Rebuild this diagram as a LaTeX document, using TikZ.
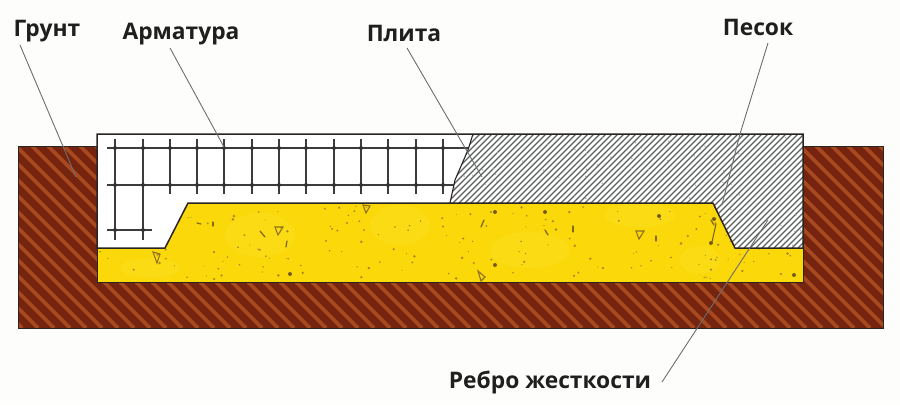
\documentclass[tikz,border=0pt]{standalone}
\usepackage{fontspec}
\setmainfont{Open Sans}
\definecolor{soil}{HTML}{74240F}
\definecolor{soilstripe}{HTML}{A8481F}
\definecolor{sandy}{HTML}{FAD80A}
\definecolor{sandlight}{HTML}{FBDC14}
\definecolor{speck}{HTML}{A98520}
\definecolor{edge}{HTML}{2A2420}
\definecolor{leader}{HTML}{6E6E6E}
\definecolor{bar}{HTML}{3C3C3C}
\definecolor{hatchc}{HTML}{5A5F5F}
\definecolor{paper}{HTML}{FDFDFB}
\tikzset{
  labeltext/.style={font=\bfseries\fontsize{22.8}{25}\selectfont,text=black!88,inner sep=0pt,anchor=base},
  leaderline/.style={draw=leader,line width=0.9pt},
  rebar/.style={draw=bar,line width=1.1pt},
  outline/.style={draw=edge,line width=1.5pt,line join=miter},
  grit/.style={draw=speck!85!black,line width=1.1pt,fill=none}
}
\begin{document}
\begin{tikzpicture}[x=1pt,y=-1pt]
\useasboundingbox (0,0) rectangle (900,405);
\fill[paper] (0,0) rectangle (900,405);
% soil
\fill[soil] (18,146) rectangle (883,328);
\begin{scope}
\clip (18,146) rectangle (883,328);
\foreach \k in {-13,...,56}{
  \draw[soilstripe,line width=3.6pt] ({\k*16},146) -- ({\k*16+182},328);
}
\end{scope}
\draw[edge,line width=1pt] (18,146) rectangle (883,328);
% sand
\fill[sandy] (97,134) rectangle (803,282);
\begin{scope}
\clip (97,203) rectangle (803,282);
\foreach \px/\py/\rx/\ry in {260/235/35/22,400/225/30/20,530/250/40/18,640/215/35/12,150/268/30/10,700/260/20/14}{
  \fill[sandlight] (\px,\py) ellipse ({\rx} and {\ry});
}
\pgfmathsetseed{271}
\foreach \i in {1,...,170}{
  \pgfmathsetmacro{\sx}{100+rnd*700}
  \pgfmathsetmacro{\sy}{206+rnd*74}
  \pgfmathsetmacro{\sr}{0.5+rnd*0.9}
  \fill[speck] (\sx,\sy) circle ({\sr});
}
\foreach \sx/\sy/\dx/\dy in {197/223/4/1,213/222/0/4,260/231/5/6,287/241/-1/6,484/220/-3/7,545/230/3/5,573/226/0/6,656/236/0/5,711/220/3/5}{
  \draw[speck!80!black,line width=1.3pt,line cap=round] (\sx,\sy) -- ++(\dx,\dy);
}
\foreach \sx/\sy in {290/274,495/212,495/265,545/212,659/216,714/219,711/243,794/275}{
  \fill[speck!70!black] (\sx,\sy) circle (2);
}
\end{scope}
\draw[grit] (153,252) -- (160,254) -- (157,263) -- cycle;
\draw[grit] (275,227) -- (283,227) -- (278,235) -- cycle;
\draw[grit] (636,231) -- (644,231) -- (639,239) -- cycle;
\draw[grit] (478,271) -- (485,277) -- (481,281) -- cycle;
\draw[grit] (363,205) -- (370,206) -- (366,213) -- cycle;
\draw[speck!70!black,line width=1pt] (716,224) -- (712,242);
% white part of slab
\fill[white] (97,134) -- (803,134) -- (803,248) -- (735,248) -- (713,203) -- (188,203) -- (165,248) -- (97,248) -- cycle;
% reinforcement
\foreach \x in {115,143}{\draw[rebar] (\x,139) -- (\x,240);}
\foreach \x in {170,197,224,252,279,306,334,361,388,416,443}{\draw[rebar] (\x,139) -- (\x,194);}
\foreach \y in {148,185}{\draw[rebar] (107,\y) -- (470,\y);}
\draw[rebar] (107,230) -- (152,230);
\foreach \x in {115,143,170,197,224,252,279,306,334,361,388,416,443}{
  \fill[black!80] (\x,148) circle (2);
  \fill[black!80] (\x,185) circle (2);
}
\fill[black!80] (115,230) circle (2);
\fill[black!80] (143,230) circle (2);
% hatched concrete
\fill[white] (473,134) -- (468,150) -- (455,180) -- (450,203) -- (713,203) -- (735,248) -- (803,248) -- (803,134) -- cycle;
\begin{scope}
\clip (473,134) -- (468,150) -- (455,180) -- (450,203) -- (713,203) -- (735,248) -- (803,248) -- (803,134) -- cycle;
\foreach \k in {0,...,85}{
  \draw[hatchc,line width=1.1pt] ({330+\k*6},248) -- ({330+\k*6+114},134);
}
\pgfmathsetseed{93}
\foreach \i in {1,...,110}{
  \pgfmathsetmacro{\sx}{450+rnd*353}
  \pgfmathsetmacro{\sy}{134+rnd*114}
  \fill[black!35] (\sx,\sy) circle (0.8);
}
\end{scope}
% outlines
\draw[outline] (97,248) -- (97,134) -- (803,134) -- (803,248) -- (735,248) -- (713,203) -- (188,203) -- (165,248) -- cycle;
\draw[edge,line width=1.1pt] (473,134) -- (468,150) -- (455,180) -- (450,203);
\draw[edge,line width=1pt] (97,248) -- (97,282) -- (803,282) -- (803,248);
% labels
\node[labeltext] (grunt) at (47,36) {Грунт};
\node[labeltext] (armatura) at (181,39) {Арматура};
\node[labeltext] (plita) at (404,41) {Плита};
\node[labeltext] (pesok) at (758,35) {Песок};
\node[labeltext] (rebro) at (550,388) {Ребро жесткости};
% leader ends
\coordinate (gruntend) at (76,177);
\coordinate (armend) at (224,147);
\coordinate (plitaend) at (482,177);
\coordinate (pesokmid) at (740,134);
\coordinate (pesokend) at (722,205);
\coordinate (rebroend) at (768,220);
\coordinate (gruntstart) at (20,45);
\coordinate (armstart) at (170,48);
\coordinate (plitastart) at (407,48);
\coordinate (pesokstart) at (768,43);
\coordinate (rebrostart) at (662,382);
\draw[leaderline] (gruntstart) -- (gruntend);
\draw[leaderline] (armstart) -- (armend);
\draw[leaderline] (plitastart) -- (plitaend);
\draw[leaderline] (pesokstart) -- (pesokmid) -- (pesokend);
\draw[leaderline] (rebrostart) -- (rebroend);
\end{tikzpicture}
\end{document}
